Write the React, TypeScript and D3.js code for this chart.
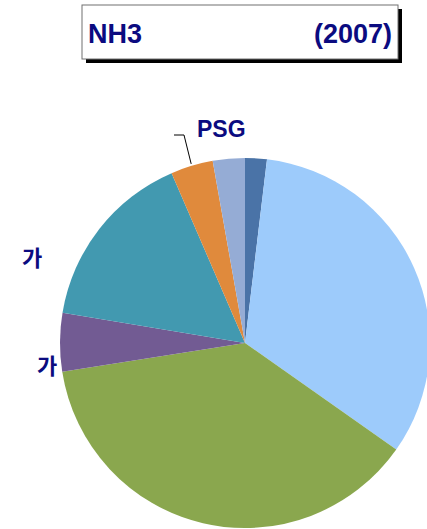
import { useEffect, useRef } from 'react';
import * as d3 from 'd3';

// slice order: clockwise from 12 o'clock
const categories = ['A', 'B', 'C', 'D', 'E', 'PSG', 'G'];
const values = [1.9, 32.9, 37.8, 5.1, 15.9, 3.7, 2.8];
const sliceColors = ['#4a73a7', '#9dcbfb', '#8aa74e', '#725b93', '#4299b0', '#e08a3c', '#95acd5'];

const titleLeft = 'NH3';
const titleRight = '(2007)';

const NAVY = '#0b0b80';

export default function App() {
    const svgRef = useRef<SVGSVGElement>(null);

    useEffect(() => {
        const svg = d3.select(svgRef.current);
        svg.selectAll('*').remove();

        const cx = 245;
        const cy = 343;
        const radius = 185;

        // title box with drop shadow
        const box = { x: 82, y: 5, w: 316, h: 54 };
        svg.append('rect')
            .attr('x', box.x + 4)
            .attr('y', box.y + 4)
            .attr('width', box.w)
            .attr('height', box.h)
            .attr('fill', '#000');
        svg.append('rect')
            .attr('x', box.x)
            .attr('y', box.y)
            .attr('width', box.w)
            .attr('height', box.h)
            .attr('fill', '#fff')
            .attr('stroke', '#707070')
            .attr('stroke-width', 1);

        svg.append('text')
            .attr('x', box.x + 6)
            .attr('y', 43)
            .style('font-family', 'Arial, "Liberation Sans", sans-serif')
            .style('font-weight', 'bold')
            .style('font-size', '27px')
            .style('fill', NAVY)
            .text(titleLeft);

        svg.append('text')
            .attr('x', 392)
            .attr('y', 43)
            .attr('text-anchor', 'end')
            .style('font-family', 'Arial, "Liberation Sans", sans-serif')
            .style('font-weight', 'bold')
            .style('font-size', '27px')
            .style('fill', NAVY)
            .text(titleRight);

        // pie
        const pie = d3.pie<number>().sort(null).value(d => d);
        const arc = d3.arc<d3.PieArcDatum<number>>().innerRadius(0).outerRadius(radius);

        const g = svg.append('g').attr('transform', `translate(${cx},${cy})`);
        g.selectAll('path')
            .data(pie(values))
            .enter()
            .append('path')
            .attr('d', arc)
            .attr('fill', (_, i) => sliceColors[i]);

        // PSG label with leader line
        const psgIdx = categories.indexOf('PSG');
        const psgArc = pie(values)[psgIdx];
        const midA = (psgArc.startAngle + psgArc.endAngle) / 2;
        const edge = [Math.sin(midA) * (radius + 2), -Math.cos(midA) * (radius + 2)];
        svg.append('polyline')
            .attr('points', `174,135 184,135 ${cx + edge[0]},${cy + edge[1]}`)
            .attr('fill', 'none')
            .attr('stroke', '#000')
            .attr('stroke-width', 1);
        svg.append('text')
            .attr('x', 197)
            .attr('y', 137)
            .style('font-family', 'Arial, "Liberation Sans", sans-serif')
            .style('font-weight', 'bold')
            .style('font-size', '23px')
            .style('fill', NAVY)
            .text('PSG');

        // partial Korean labels
        const koLabels = [
            { text: '가', x: 22, y: 266 },
            { text: '가', x: 37, y: 374 },
        ];
        svg.selectAll('.ko')
            .data(koLabels)
            .enter()
            .append('text')
            .attr('class', 'ko')
            .attr('x', d => d.x)
            .attr('y', d => d.y)
            .style('font-family', '"Noto Sans CJK KR", sans-serif')
            .style('font-weight', 'bold')
            .style('font-size', '22px')
            .style('fill', NAVY)
            .text(d => d.text);
    }, []);

    return (
        <svg
            ref={svgRef}
            width={427}
            height={529}
            style={{ position: 'absolute', left: 0, top: 0, background: '#fff' }}
        />
    );
}
